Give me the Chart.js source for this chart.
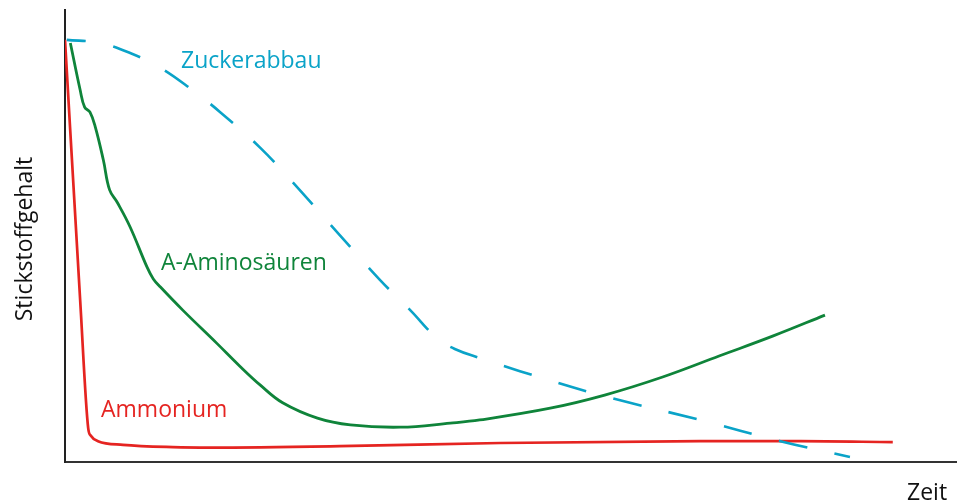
<!DOCTYPE html>
<html>
<head>
<meta charset="utf-8">
<script src="https://cdn.jsdelivr.net/npm/chart.js@4"></script>
<style>
  html, body { margin: 0; padding: 0; background: #fff; }
  canvas { display: block; }
</style>
</head>
<body>
<canvas id="myChart" width="957" height="503"></canvas>
<script>
'use strict';

// values, time 0..100, nitrogen 0..100
const ammoniumTime = [0, 1.7, 2.6, 2.9, 3.7, 6.5, 12.1, 16.3, 30.8, 48.8, 71.2, 82.4, 92.8];
const ammoniumVals = [93.4, 35.8, 7.5, 5.8, 4.6, 3.8, 3.3, 3.2, 3.5, 4.2, 4.6, 4.6, 4.4];

const aminoTime = [0.6, 1.7, 2.2, 2.8, 3.4, 4.3, 5.0, 5.9, 7.3, 9.2, 9.9, 10.7, 13.2, 17.0, 19.6, 21.9, 24.4, 28.3, 32.0, 37.6, 43.2, 46.5, 54.4, 60.5, 67.0, 73.4, 79.4, 85.2];
const aminoVals = [92.7, 82.3, 78.5, 77.4, 74.1, 66.8, 60.2, 57.3, 52.0, 43.1, 40.5, 38.7, 33.6, 26.3, 21.2, 17.0, 13.1, 9.7, 8.2, 7.7, 8.6, 9.3, 11.9, 14.8, 18.8, 23.5, 27.9, 32.5];

const zuckerTime = [0.2, 3.9, 7.3, 10.7, 14.0, 17.4, 21.9, 26.3, 30.8, 35.3, 38.7, 41.7, 43.7, 46.5, 51.0, 60.0, 71.2, 80.2, 88.0];
const zuckerVals = [93.4, 92.7, 90.5, 87.2, 82.7, 77.4, 69.5, 60.2, 50.2, 40.3, 33.6, 27.4, 25.0, 23.0, 20.1, 14.8, 9.3, 4.6, 1.1];

const red = '#e52421';
const green = '#0f843a';
const blue = '#0aa3c8';

function toPoints(xs, ys) {
  let pts = [];
  for (let i = 0; i < xs.length; i++) {
    pts.push({ x: xs[i], y: ys[i] });
  }
  return pts;
}

const textFont = '23px "Open Sans", sans-serif';

// curve labels and axis names
const labelPlugin = {
  id: 'labels',
  afterDraw(chart) {
    const ctx = chart.ctx;
    ctx.save();
    ctx.font = textFont;
    ctx.textBaseline = 'alphabetic';
    ctx.textAlign = 'left';
    ctx.fillStyle = blue;
    ctx.fillText('Zuckerabbau', 181, 68);
    ctx.fillStyle = green;
    ctx.fillText('A-Aminosäuren', 161, 270);
    ctx.fillStyle = red;
    ctx.fillText('Ammonium', 101, 417);
    ctx.fillStyle = '#111';
    ctx.fillText('Zeit', 907, 500);
    ctx.translate(32, 239);
    ctx.rotate(-Math.PI / 2);
    ctx.textAlign = 'center';
    ctx.fillText('Stickstoffgehalt', 0, 0);
    ctx.restore();
  }
};

const ctx = document.getElementById('myChart');

let config = {
  type: 'line',
  data: {
    datasets: [
      {
        label: 'Zuckerabbau',
        data: toPoints(zuckerTime, zuckerVals),
        borderColor: blue,
        borderWidth: 2.6,
        borderDash: [29, 28],
        borderDashOffset: 10,
        pointRadius: 0,
        tension: 0.4,
        fill: false
      },
      {
        label: 'A-Aminosäuren',
        data: toPoints(aminoTime, aminoVals),
        borderColor: green,
        borderWidth: 2.8,
        pointRadius: 0,
        tension: 0.4,
        fill: false
      },
      {
        label: 'Ammonium',
        data: toPoints(ammoniumTime, ammoniumVals),
        borderColor: red,
        borderWidth: 2.7,
        pointRadius: 0,
        cubicInterpolationMode: 'monotone',
        fill: false
      }
    ]
  },
  options: {
    responsive: false,
    animation: false,
    layout: { padding: { left: 65, top: 10, right: 0, bottom: 41 } },
    plugins: {
      legend: { display: false },
      tooltip: { enabled: false }
    },
    scales: {
      x: {
        type: 'linear',
        min: 0,
        max: 100,
        ticks: { display: false },
        grid: { display: false, drawTicks: false },
        border: { display: true, color: '#333', width: 2 }
      },
      y: {
        type: 'linear',
        min: 0,
        max: 100,
        ticks: { display: false },
        grid: { display: false, drawTicks: false },
        border: { display: true, color: '#222', width: 2 }
      }
    }
  },
  plugins: [labelPlugin]
};

new Chart(ctx, config);
</script>
</body>
</html>
